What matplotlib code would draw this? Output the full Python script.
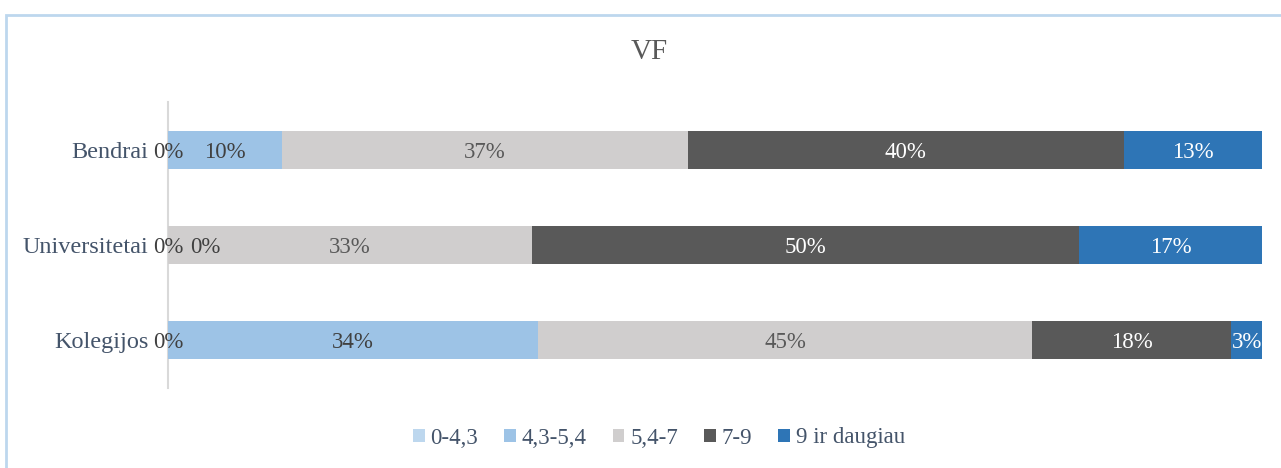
import matplotlib
matplotlib.use("Agg")
import matplotlib.pyplot as plt
from matplotlib.patches import Rectangle
import numpy as np

categories = ["Kolegijos", "Universitetai", "Bendrai"]
series_names = ["0-4,3", "4,3-5,4", "5,4-7", "7-9", "9 ir daugiau"]
values = {
    "0-4,3":        [0.0, 0.0, 0.0],
    "4,3-5,4":      [33.8, 0.0, 10.4],
    "5,4-7":        [45.2, 33.3, 37.1],
    "7-9":          [18.2, 50.0, 39.9],
    "9 ir daugiau": [2.8, 16.7, 12.6],
}
colors = ["#BDD7EE", "#9DC3E6", "#D0CECE", "#595959", "#2E75B6"]
label_colors = ["#404040", "#404040", "#595959", "#FFFFFF", "#FFFFFF"]

plt.rcParams['font.family'] = ['Liberation Serif', 'DejaVu Serif']

W, H = 1281, 468
fig = plt.figure(figsize=(W / 100, H / 100), dpi=100)
ax = fig.add_axes([168 / W, 1 - 388 / H, (1262 - 168) / W, (388 - 102) / H])

y = np.arange(len(categories))
left = np.zeros(len(categories))
for i, name in enumerate(series_names):
    v = np.array(values[name])
    ax.barh(y, v, left=left, height=0.4, color=colors[i], label=name, zorder=2)
    for j, val in enumerate(v):
        cx = left[j] + val / 2
        dx = 0
        # Excel moves overlapping zero-width labels aside
        if val == 0 and i > 0 and values[series_names[i - 1]][j] == 0:
            dx = 27
        ax.annotate(f"{int(val + 0.5)}%", (cx, y[j]), xytext=(dx, 0),
                    textcoords="offset points", ha="center",
                    va="center_baseline",
                    fontsize=16.5, color=label_colors[i], zorder=3)
    left = left + v

ax.set_xlim(0, 100)
ax.set_ylim(-0.5, 2.5)
ax.set_yticks(y)
ax.set_yticklabels(categories, fontsize=17.5, color="#44546A",
                   va="center_baseline")
ax.tick_params(axis="y", length=0, pad=14)
ax.set_xticks([])
for s in ["top", "right", "bottom"]:
    ax.spines[s].set_visible(False)
ax.spines["left"].set_color("#D9D9D9")
ax.spines["left"].set_linewidth(1.5)
ax.spines["left"].set_zorder(1)

fig.text(649 / W, 1 - 52 / H, "VF", ha="center", va="center",
         fontsize=21, color="#595959")

leg = fig.legend(loc="center", bbox_to_anchor=(659 / W, 1 - 438 / H), ncol=5,
                 frameon=False, fontsize=16.5, handlelength=0.5,
                 handleheight=0.5, handletextpad=0.25, columnspacing=1.15)
for t in leg.get_texts():
    t.set_color("#44546A")

fig.patches.append(Rectangle((5.5 / W, -0.05), 1.05, 1 - 14.5 / H + 0.05,
                             transform=fig.transFigure, fill=False,
                             edgecolor="#BDD7EE", linewidth=2))

fig.savefig("out.png", dpi=100)
